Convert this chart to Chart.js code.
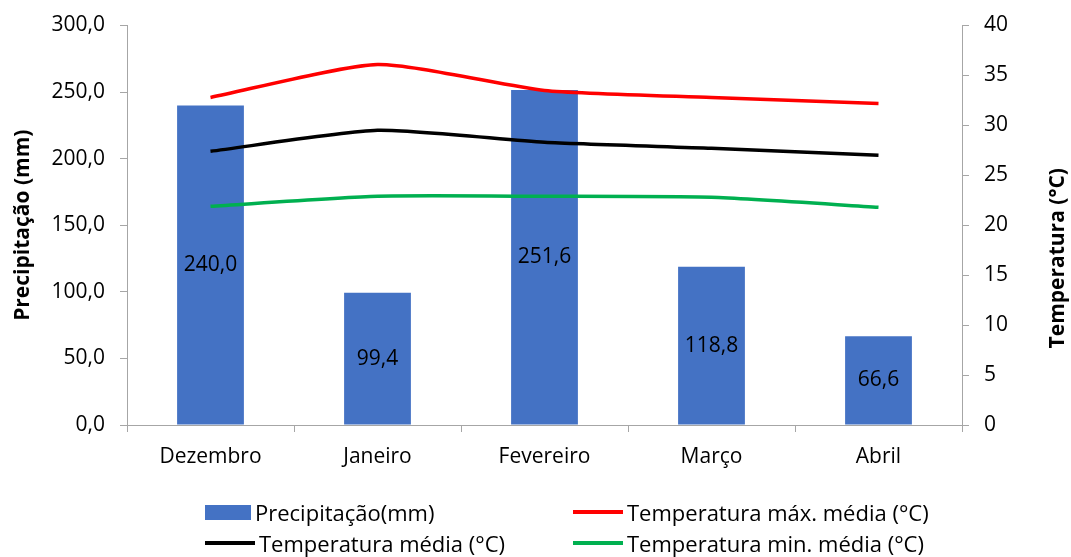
<!DOCTYPE html>
<html>
<head>
<meta charset="utf-8">
<script src="https://cdn.jsdelivr.net/npm/chart.js@4"></script>
<style>
  body { margin: 0; background: #fff; }
  #wrap { position: relative; width: 1071px; height: 557px; }
  #legend { position: absolute; left: 0; top: 0; width: 1071px; height: 557px; pointer-events: none;
            font-family: "Open Sans", "Noto Sans", sans-serif; font-size: 22px; color: #000; }
  .item { position: absolute; display: flex; align-items: center; white-space: nowrap; }
  .sw { display: inline-block; margin-right: 4px; }
</style>
</head>
<body>
<div id="wrap">
  <canvas id="chart" width="1071" height="557"></canvas>
  <div id="legend"></div>
</div>
<script>
const months = ['Dezembro', 'Janeiro', 'Fevereiro', 'Março', 'Abril'];
const rain = [240.0, 99.4, 251.6, 118.8, 66.6];
const tempMax = [32.8, 36.1, 33.5, 32.8, 32.2];
const tempMean = [27.4, 29.5, 28.3, 27.7, 27.0];
const tempMin = [21.9, 22.9, 22.9, 22.8, 21.8];

const fontFamily = '"Open Sans", "Noto Sans", sans-serif';
const axisGray = '#a6a6a6';

function comma(v, d) {
    return v.toFixed(d).replace('.', ',');
}

// value labels in the middle of each bar + right axis title read bottom-up
const extras = {
    id: 'extras',
    afterDatasetsDraw(chart) {
        const ctx = chart.ctx;
        const meta = chart.getDatasetMeta(3);
        ctx.save();
        ctx.font = '21px ' + fontFamily;
        ctx.fillStyle = '#000';
        ctx.textAlign = 'center';
        ctx.textBaseline = 'middle';
        meta.data.forEach((bar, i) => {
            ctx.fillText(comma(rain[i], 1), bar.x, (bar.y + bar.base) / 2);
        });
        ctx.restore();
    },
    afterDraw(chart) {
        const ctx = chart.ctx;
        const area = chart.chartArea;
        ctx.save();
        ctx.translate(1058, (area.top + area.bottom) / 2 + 33);
        ctx.rotate(-Math.PI / 2);
        ctx.font = 'bold 21px ' + fontFamily;
        ctx.fillStyle = '#000';
        ctx.textAlign = 'center';
        ctx.textBaseline = 'middle';
        ctx.fillText('Temperatura (°C)', 0, 0);
        ctx.restore();
    }
};

function lineSet(label, data, color) {
    return {
        type: 'line',
        label: label,
        data: data,
        yAxisID: 'y2',
        borderColor: color,
        backgroundColor: color,
        borderWidth: 3.5,
        pointRadius: 0,
        tension: 0.2,
        fill: false
    };
}

const tickFont = { family: fontFamily, size: 21, lineHeight: 1 };

new Chart(document.querySelector('#chart').getContext('2d'), {
    type: 'bar',
    data: {
        labels: months,
        datasets: [
            lineSet('Temperatura máx. média (°C)', tempMax, '#ff0000'),
            lineSet('Temperatura média (°C)', tempMean, '#000000'),
            lineSet('Temperatura min. média (°C)', tempMin, '#00b050'),
            {
                label: 'Precipitação(mm)',
                data: rain,
                yAxisID: 'y',
                backgroundColor: '#4472c4',
                barPercentage: 0.8,
                categoryPercentage: 0.5
            }
        ]
    },
    options: {
        responsive: false,
        animation: false,
        layout: { padding: { top: 24, left: 0, right: 0, bottom: 82 } },
        plugins: { legend: { display: false }, tooltip: { enabled: false } },
        scales: {
            x: {
                offset: true,
                grid: { display: true, offset: true, drawOnChartArea: false, tickLength: 7, color: axisGray },
                border: { color: axisGray },
                ticks: { font: tickFont, color: '#000', padding: 15 },
                afterFit(scale) { scale.height = 50; }
            },
            y: {
                position: 'left',
                min: 0, max: 300,
                ticks: { stepSize: 50, font: tickFont, color: '#000', padding: 15,
                         callback: v => comma(v, 1) },
                grid: { drawOnChartArea: false, tickLength: 7, color: axisGray },
                border: { color: axisGray },
                title: { display: true, text: 'Precipitação (mm)', font: { family: fontFamily, size: 21, weight: 'bold' },
                         color: '#000', padding: { top: 10, bottom: 0 } },
                afterFit(scale) { scale.width = 127; }
            },
            y2: {
                position: 'right',
                min: 0, max: 40,
                ticks: { stepSize: 5, font: tickFont, color: '#000', padding: 15 },
                grid: { drawOnChartArea: false, tickLength: 7, color: axisGray },
                border: { color: axisGray },
                afterFit(scale) { scale.width = 109; }
            }
        }
    },
    plugins: [extras]
});

// legend in two rows, like the original
const legendItems = [
    { text: 'Precipitação(mm)', color: '#4472c4', box: true, x: 205, y: 512 },
    { text: 'Temperatura máx. média (°C)', color: '#ff0000', box: false, x: 573, y: 512 },
    { text: 'Temperatura média (°C)', color: '#000000', box: false, x: 205, y: 543 },
    { text: 'Temperatura min. média (°C)', color: '#00b050', box: false, x: 573, y: 543 }
];
const legend = document.querySelector('#legend');
legendItems.forEach(item => {
    const div = document.createElement('div');
    div.className = 'item';
    div.style.left = item.x + 'px';
    div.style.top = (item.y - 15) + 'px';
    div.style.height = '30px';
    const sw = document.createElement('span');
    sw.className = 'sw';
    sw.style.background = item.color;
    sw.style.width = (item.box ? 46 : 50) + 'px';
    sw.style.height = (item.box ? 15 : 4) + 'px';
    div.appendChild(sw);
    div.appendChild(document.createTextNode(item.text));
    legend.appendChild(div);
});
</script>
</body>
</html>
